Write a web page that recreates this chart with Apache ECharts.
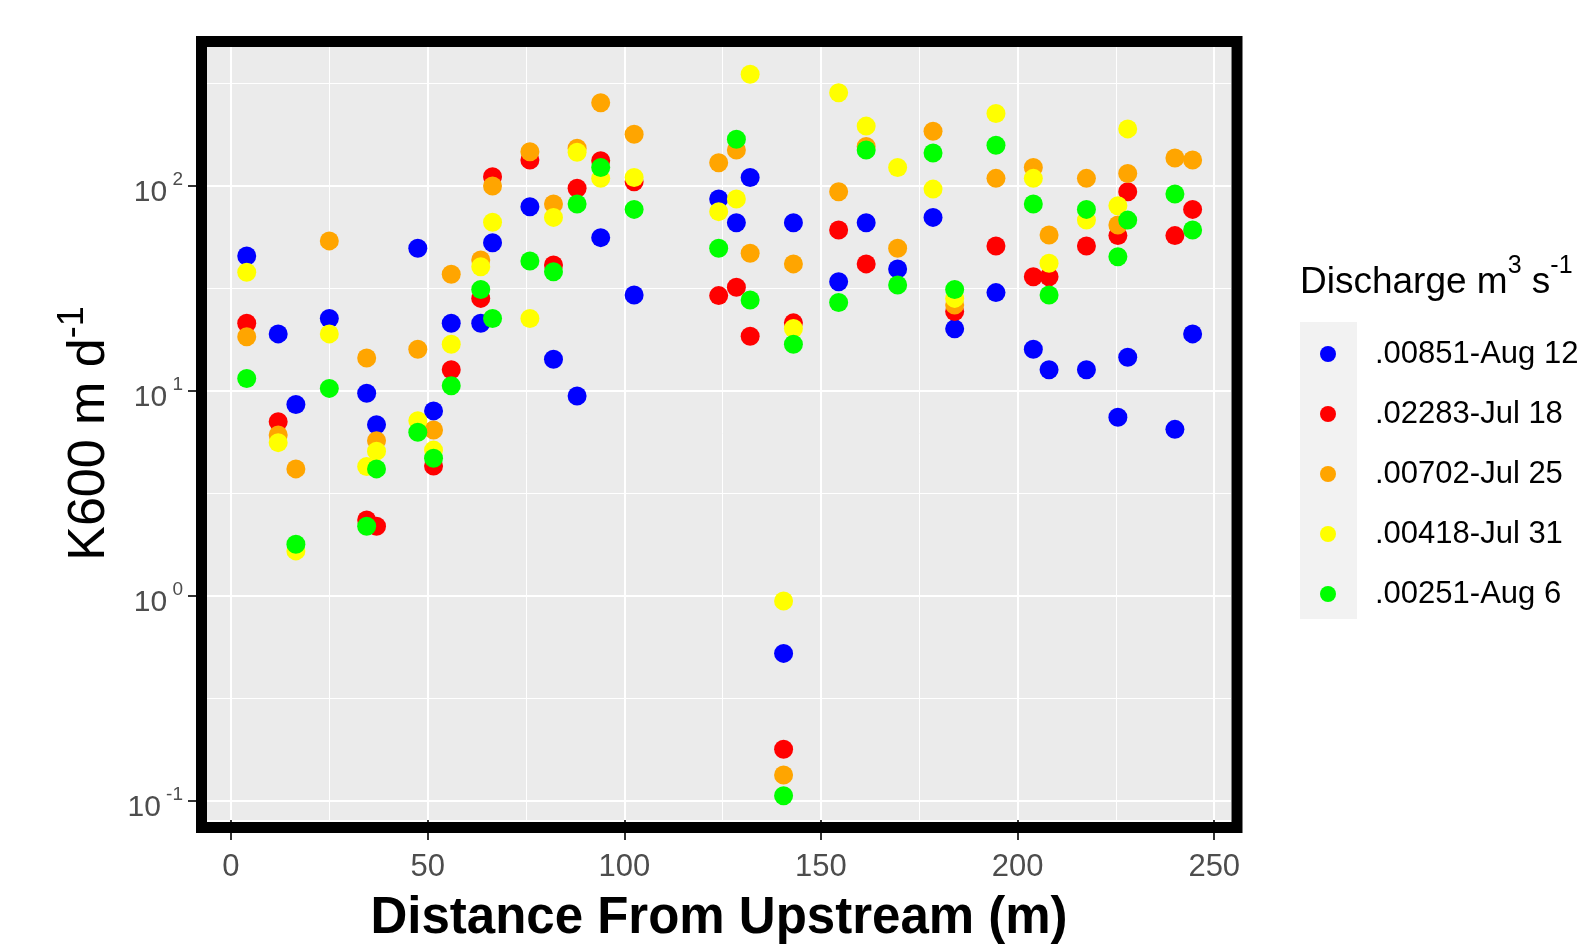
<!DOCTYPE html>
<html>
<head>
<meta charset="utf-8">
<script src="https://cdn.jsdelivr.net/npm/echarts@6/dist/echarts.min.js"></script>
<style>
  html, body { margin: 0; padding: 0; background: #fff; }
  #main { width: 1586px; height: 950px; }
</style>
</head>
<body>
<div id="main"></div>
<script>
// distance of each sampling site from upstream (m)
var distance = [4, 12, 16.5, 25, 34.5, 37, 47.5, 51.5, 56, 63.5, 66.5, 76, 82, 88, 94, 102.5,
  124, 128.5, 132, 140.5, 143, 154.5, 161.5, 169.5, 178.5, 184, 194.5, 204, 208, 217.5,
  225.5, 228, 240, 244.5];

// K600 (m/d) per site, one list per survey
var aug12 = [45.6, 19.0, 8.6, 22.6, 9.75, 6.85, 49.7, 8.0, 21.4, 21.4, 52.9, 79.3, 14.3, 9.46, 56, 29.4,
  86.5, 66.2, 110, 0.525, 66.2, 34.1, 66.2, 39.4, 70.3, 20.1, 30.2, 16.0, 12.7, 12.7,
  7.45, 14.6, 6.5, 19.0];
var jul18 = [21.4, 7.08, null, null, 2.35, 2.19, null, 4.31, 12.7, 28.3, 111, 134, 41.2, 97.5, 133, 105,
  29.2, 32.1, 18.5, 0.179, 21.5, 61, 41.7, null, null, 24.4, 51, 36.1, 36.1, 51,
  57.3, 93.8, 57.3, 76.9];
var jul25 = [18.4, 6.1, 4.17, 54, 14.5, 5.72, 16.0, 6.46, 37.1, 43.6, 100, 147, 81.7, 153, 255, 179,
  130, 150, 47, 0.134, 41.7, 93.8, 156, 49.7, 185, 26.3, 109, 123, 57.7, 109,
  64.6, 115, 137, 134];
var jul31 = [38, 5.6, 1.66, 19, 4.28, 5.09, 7.16, 5.15, 16.9, 40.4, 66.6, 22.6, 70.3, 146, 109, 110,
  75, 86.5, 351, 0.946, 20.2, 285, 196, 123, 96.6, 28.3, 226, 109, 42, 68.2,
  80.1, 190, null, null];
var aug6 = [11.5, null, 1.79, 10.3, 2.19, 4.17, 6.29, 4.70, 10.6, 31.3, 22.6, 43.1, 38.2, 81.7, 123, 76.9,
  49.7, 169, 27.8, 0.106, 16.9, 27.0, 150, 32.9, 145, 31.3, 158, 81.7, 29.4, 76.9,
  45.2, 68.2, 91.4, 61];

var seriesNames = ['.00851-Aug 12', '.02283-Jul 18', '.00702-Jul 25', '.00418-Jul 31', '.00251-Aug 6'];
var seriesColors = ['#0000ff', '#ff0000', '#ffa500', '#ffff00', '#00ff00'];
var seriesValues = [aug12, jul18, jul25, jul31, aug6];

var xMajor = [0, 50, 100, 150, 200, 250];
var xMinor = [25, 75, 125, 175, 225];
var yMajorExp = [-1, 0, 1, 2];
var yMinorExp = [-0.5, 0.5, 1.5, 2.5];

// axis extents (panel edges)
var xMin = -6.1, xMax = 254.26;
var yMin = 0.0808, yMax = 476.6;

var font = '"Liberation Sans", Arial, sans-serif';

function pairs(vals) {
  var out = [];
  for (var i = 0; i < distance.length; i++) {
    if (vals[i] != null) out.push([distance[i], vals[i]]);
  }
  return out;
}

var series = seriesNames.map(function (name, i) {
  return {
    name: name,
    type: 'scatter',
    xAxisIndex: 0,
    yAxisIndex: 0,
    symbol: 'circle',
    symbolSize: 19,
    itemStyle: { color: seriesColors[i], opacity: 1 },
    data: pairs(seriesValues[i])
  };
});

// y helper axes work in log10 units so they line up with the log data axis
var logMin = Math.log10(yMin), logMax = Math.log10(yMax);
function helperY(extra) {
  var base = {
    type: 'value',
    position: 'left',
    offset: 0,
    min: logMin, max: logMax,
    axisLine: { show: false, onZero: false },
    axisTick: { show: false },
    axisLabel: { show: false },
    splitLine: { show: false }
  };
  return Object.assign(base, extra);
}

var chart = echarts.init(document.getElementById('main'));
chart.setOption({
  animation: false,
  backgroundColor: '#ffffff',
  title: {
    text: '{base|Discharge m}{sup|3}{base| s}{sup|-1}',
    left: 1300,
    top: 254,
    padding: 0,
    textStyle: {
      fontFamily: font,
      fontWeight: 'normal',
      color: '#000',
      rich: {
        base: { fontFamily: font, fontSize: 37, lineHeight: 57, color: '#000' },
        sup: { fontFamily: font, fontSize: 25, lineHeight: 25, verticalAlign: 'top', color: '#000' }
      }
    }
  },
  legend: {
    data: seriesNames,
    orient: 'vertical',
    left: 1320,
    top: 334,
    padding: 0,
    icon: 'circle',
    itemWidth: 16,
    itemHeight: 16,
    itemGap: 20,
    selectedMode: false,
    textStyle: { fontFamily: font, fontSize: 31, lineHeight: 40, color: '#000', padding: [0, 0, 0, 34] }
  },
  graphic: [
    {
      type: 'rect',
      z: 0,
      silent: true,
      shape: { x: 1300, y: 322, width: 57, height: 297 },
      style: { fill: '#f2f2f2' }
    },
    {
      type: 'rect',
      z: 100,
      silent: true,
      shape: { x: 201.5, y: 41.5, width: 1035.5, height: 786 },
      style: { fill: 'none', stroke: '#000', lineWidth: 11 }
    }
  ],
  grid: {
    left: 207, top: 47, width: 1024, height: 773,
    show: true,
    backgroundColor: '#ebebeb',
    borderWidth: 0,
    containLabel: false,
    outerBoundsMode: 'none'
  },
  xAxis: [
    {
      type: 'value',
      position: 'bottom',
      min: xMin, max: xMax,
      name: 'Distance From Upstream (m)',
      nameLocation: 'middle',
      nameGap: 73,
      nameTextStyle: { fontFamily: font, fontSize: 51, fontWeight: 'bold', color: '#000', lineHeight: 51 },
      axisLine: { show: false, onZero: false },
      axisTick: { show: true, length: 20, customValues: xMajor, lineStyle: { color: '#333', width: 2 } },
      axisLabel: { customValues: xMajor, margin: 32, fontFamily: font, fontSize: 31, color: '#4d4d4d' },
      splitLine: { show: true, lineStyle: { color: '#ffffff', width: 2 } }
    },
    {
      type: 'value',
      position: 'bottom',
      min: xMin, max: xMax,
      axisLine: { show: false, onZero: false },
      axisTick: { show: false, customValues: xMinor },
      axisLabel: { show: false, customValues: xMinor },
      splitLine: { show: true, lineStyle: { color: '#ffffff', width: 1 } }
    }
  ],
  yAxis: [
    {
      // data axis (log10)
      type: 'log',
      logBase: 10,
      position: 'left',
      min: yMin, max: yMax,
      axisLine: { show: false, onZero: false },
      axisTick: { show: false },
      axisLabel: { show: false },
      splitLine: { show: false }
    },
    // decade ticks, grid and the "10" part of the labels
    helperY({
      name: '{base|K600 m d}{sup|-1}',
      nameLocation: 'middle',
      nameRotate: 90,
      nameGap: 82,
      nameTextStyle: {
        fontFamily: font, fontSize: 52, color: '#000',
        rich: {
          base: { fontFamily: font, fontSize: 52, lineHeight: 70, color: '#000' },
          sup: { fontFamily: font, fontSize: 36, lineHeight: 36, verticalAlign: 'top', color: '#000' }
        }
      },
      axisTick: { show: true, length: 19, customValues: yMajorExp, lineStyle: { color: '#333', width: 2 } },
      axisLabel: {
        show: true,
        customValues: yMajorExp,
        margin: 24,
        formatter: function (v) { return '{base|10}{ghost| ' + Math.round(v) + '}'; },
        rich: {
          base: { fontFamily: font, fontSize: 30, lineHeight: 44, verticalAlign: 'bottom', color: '#4d4d4d' },
          ghost: { fontFamily: font, fontSize: 19, lineHeight: 19, color: 'rgba(0,0,0,0)' }
        }
      },
      splitLine: { show: true, lineStyle: { color: '#ffffff', width: 2 } }
    }),
    // half-decade grid lines
    helperY({
      axisTick: { show: false, customValues: yMinorExp },
      axisLabel: { show: false, customValues: yMinorExp },
      splitLine: { show: true, lineStyle: { color: '#ffffff', width: 1 } }
    }),
    // exponent part of the labels
    helperY({
      axisTick: { show: false, customValues: yMajorExp },
      axisLabel: {
        show: true,
        customValues: yMajorExp,
        margin: 24,
        formatter: function (v) { return '{sup|' + Math.round(v) + '}'; },
        rich: {
          sup: { fontFamily: font, fontSize: 19, lineHeight: 31, verticalAlign: 'top', color: '#4d4d4d' }
        }
      }
    })
  ],
  series: series
});
</script>
</body>
</html>
